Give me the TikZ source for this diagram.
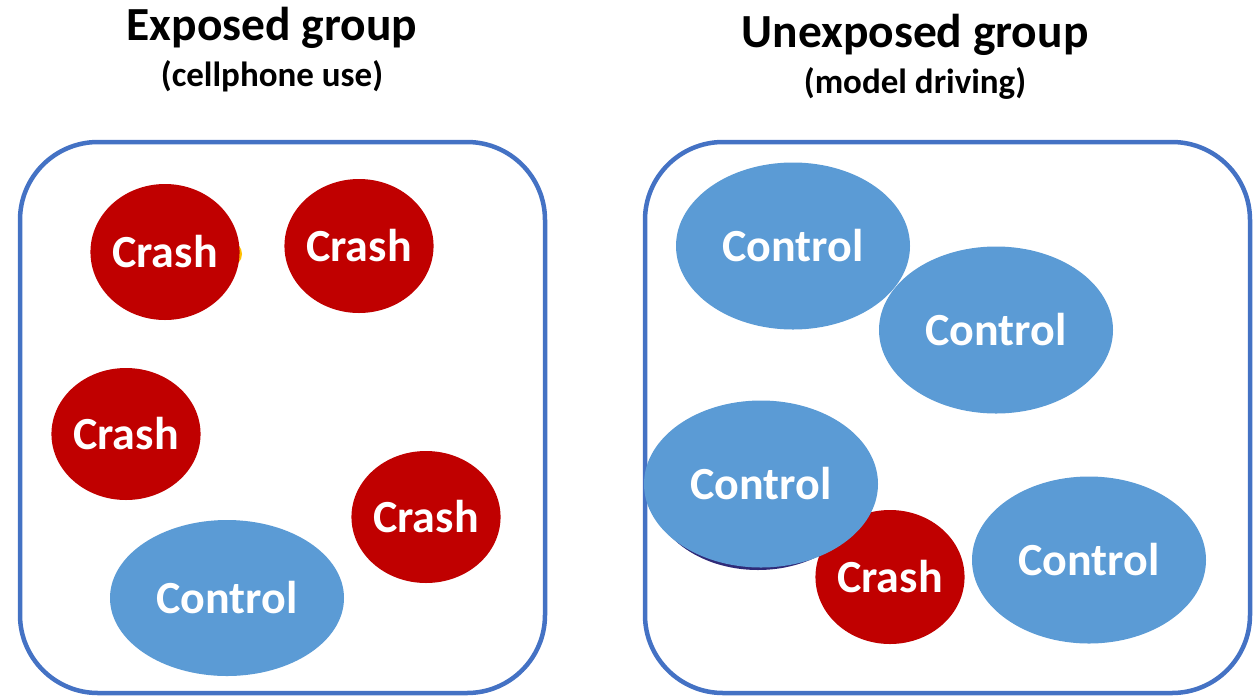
\documentclass[tikz,border=0pt]{standalone}
\usepackage{fontspec}
\setmainfont{Carlito}
\usetikzlibrary{shapes.geometric}
\definecolor{crashred}{HTML}{C00000}
\definecolor{ctrlblue}{HTML}{5B9BD5}
\definecolor{boxblue}{HTML}{4472C4}
\definecolor{hidyellow}{HTML}{FFC000}
\definecolor{hidnavy}{HTML}{2F2A78}
\tikzset{
  groupbox/.style={draw=boxblue, line width=4.5pt, rounded corners=78pt, fill=white},
  blob/.style={ellipse, inner sep=0pt, text=white, font=\bfseries\fontsize{46}{52}\selectfont},
  crash/.style={blob, fill=crashred, minimum width=144pt, minimum height=136pt},
  ctrl/.style={blob, fill=ctrlblue, minimum width=234pt, minimum height=167pt},
  bit/.style={ellipse, inner sep=0pt},
  title/.style={font=\bfseries\fontsize{47.5}{54}\selectfont},
  subtitle/.style={font=\bfseries\fontsize{35}{40}\selectfont}
}
\begin{document}
\begin{tikzpicture}[x=1pt,y=-1pt]
\useasboundingbox (0,0) rectangle (1253,697);
% titles
\node[title] (t1) at (272,28) {Exposed group};
\node[subtitle] (s1) at (272,76) {(cellphone use)};
\node[title] (t2) at (915,35) {Unexposed group};
\node[subtitle] (s2) at (915,83) {(model driving)};
% boxes
\draw[groupbox] (20,142) rectangle (545,693);
\draw[groupbox] (645,142) rectangle (1250,693);
% hidden bits
\node[bit, fill=hidyellow, minimum width=22pt, minimum height=24pt] (y1) at (231,254) {};
\node[bit, fill=hidyellow, minimum width=18pt, minimum height=18pt] (y2) at (297,256) {};
% exposed group
\node[crash] (c1) at (165,252) {Crash};
\node[crash, minimum height=134pt] (c2) at (359,246) {Crash};
\node[crash, minimum height=132pt] (c3) at (126,434) {Crash};
\node[crash, minimum height=132pt] (c4) at (426,517) {Crash};
\node[ctrl, minimum height=156pt] (k0) at (227,598) {Control};
% unexposed group
\node[ctrl] (k1) at (793,246) {Control};
\node[ctrl] (k2) at (996,330) {Control};
\node[crash, minimum height=134pt] (c5) at (890,577) {Crash};
\node[bit, fill=hidnavy, minimum width=214pt, minimum height=160pt] (nv) at (758,490) {};
\node[ctrl] (k3) at (761,484) {Control};
\node[ctrl] (k4) at (1089,560) {Control};
\end{tikzpicture}
\end{document}
